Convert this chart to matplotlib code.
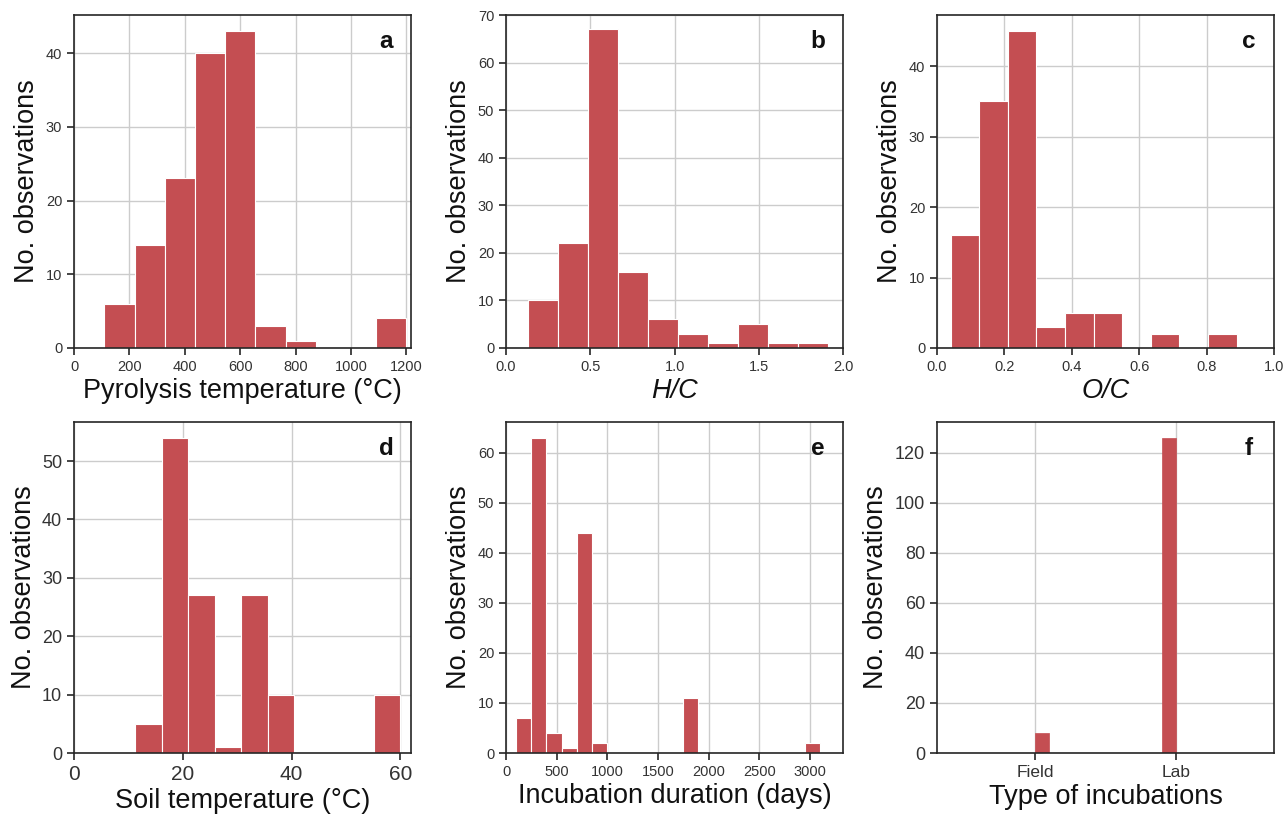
import matplotlib

matplotlib.use("Agg")
import matplotlib.pyplot as plt
import numpy as np

# histogram data: (first edge, last edge, counts per bin)
PYRO_RANGE = (110, 1200)
PYRO_COUNTS = [6, 14, 23, 40, 43, 3, 1, 0, 0, 4]

HC_RANGE = (0.13, 1.91)
HC_COUNTS = [10, 22, 67, 16, 6, 3, 1, 5, 1, 1]

OC_RANGE = (0.04, 0.888)
OC_COUNTS = [16, 35, 45, 3, 5, 5, 0, 2, 0, 2]

SOIL_RANGE = (11.3, 60)
SOIL_COUNTS = [5, 54, 27, 1, 27, 10, 0, 0, 0, 10]

INC_RANGE = (98, 3098)
INC_COUNTS = [7, 63, 4, 1, 44, 2, 0, 0, 0, 0, 0, 11, 0, 0, 0, 0, 0, 0, 0, 2]

TYPE_LABELS = ["Field", "Lab"]
TYPE_COUNTS = [8, 0, 0, 0, 0, 0, 0, 0, 0, 126]

RED = "#C44E52"
INK = "#262626"

plt.rcParams.update({
    "font.family": ["Liberation Sans", "DejaVu Sans"],
    "axes.edgecolor": INK, "axes.linewidth": 1.2,
    "xtick.color": INK, "ytick.color": INK,
    "xtick.labelcolor": "#333333", "ytick.labelcolor": "#333333",
    "xtick.labelsize": 10.5, "ytick.labelsize": 10.5,
    "xtick.major.size": 5, "ytick.major.size": 5,
    "xtick.major.width": 1.2, "ytick.major.width": 1.2,
    "axes.labelsize": 19.5, "axes.labelcolor": "#111111",
    "grid.color": "#cccccc", "grid.linewidth": 1.0,
})

fig = plt.figure(figsize=(12.85, 8.14), dpi=100)

W, H_TOP, H_BOT = 0.2625, 0.409, 0.4067
LEFTS = [0.0576, 0.3938, 0.7292]
BOTTOMS = [0.5725, 0.0749]


def hist_panel(ax, rng, counts, letter, xlabel, italic=False):
    counts = np.asarray(counts)
    edges = np.linspace(rng[0], rng[1], len(counts) + 1)
    # zorder 2 < spines (2.5): empty bins stay hidden under the bottom spine
    ax.bar(edges[:-1], counts, width=np.diff(edges), align="edge",
           color=RED, edgecolor="white", linewidth=0.8, zorder=2)
    ax.grid(True, zorder=0)
    ax.set_axisbelow(True)
    ax.set_ylim(0, counts.max() * 1.05)
    ax.set_ylabel("No. observations")
    ax.set_xlabel(xlabel, fontstyle="italic" if italic else "normal", labelpad=3)
    ax.text(0.925, 0.92, letter, transform=ax.transAxes, ha="center", va="center",
            fontsize=17.5, fontweight="bold", color="#111111")


axes = [[fig.add_axes([l, b, W, H_TOP if b > 0.5 else H_BOT]) for l in LEFTS]
        for b in BOTTOMS]

ax = axes[0][0]
hist_panel(ax, PYRO_RANGE, PYRO_COUNTS, "a", "Pyrolysis temperature (°C)")
ax.set_xlim(0, 1218)
ax.set_xticks(range(0, 1201, 200))
ax.set_yticks(range(0, 41, 10))

ax = axes[0][1]
hist_panel(ax, HC_RANGE, HC_COUNTS, "b", "H/C", italic=True)
ax.set_xlim(0, 2.0)
ax.set_ylim(0, 70)
ax.set_xticks([0.0, 0.5, 1.0, 1.5, 2.0])

ax = axes[0][2]
hist_panel(ax, OC_RANGE, OC_COUNTS, "c", "O/C", italic=True)
ax.set_xlim(0, 1.0)
ax.set_xticks([0.0, 0.2, 0.4, 0.6, 0.8, 1.0])
ax.set_yticks(range(0, 41, 10))

ax = axes[1][0]
hist_panel(ax, SOIL_RANGE, SOIL_COUNTS, "d", "Soil temperature (°C)")
ax.set_xlim(0, 62)
ax.set_xticks([0, 20, 40, 60])
ax.tick_params(axis="x", labelsize=15)
ax.tick_params(axis="y", labelsize=13)

ax = axes[1][1]
hist_panel(ax, INC_RANGE, INC_COUNTS, "e", "Incubation duration (days)")
ax.set_xlim(0, 3329)
ax.set_xticks(range(0, 3001, 500))

ax = axes[1][2]
hist_panel(ax, (0, 1), TYPE_COUNTS, "f", "Type of incubations")
ax.set_xlim(-0.7, 1.7)
ax.set_xticks([0, 1])
ax.set_xticklabels(TYPE_LABELS)
ax.tick_params(axis="x", labelsize=12.5)
ax.tick_params(axis="y", labelsize=13)
for b in ax.patches:
    b.set_edgecolor(RED)
    b.set_linewidth(0.5)

fig.savefig("out.png", dpi=100, facecolor="white")
